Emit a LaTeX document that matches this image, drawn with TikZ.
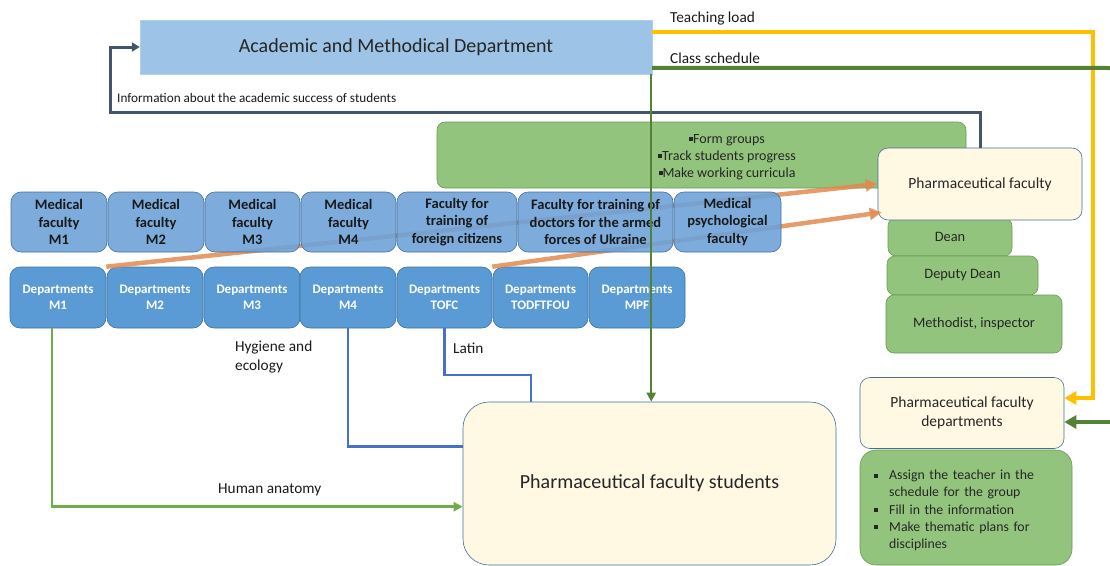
\documentclass[tikz,border=0pt]{standalone}
\usepackage{fontspec}
\setmainfont{Carlito}
\usetikzlibrary{arrows.meta,calc}
\definecolor{acadblue}{HTML}{9DC3E6}
\definecolor{toprow}{HTML}{6FA3D8}
\definecolor{deptrow}{HTML}{5B9BD5}
\definecolor{boxborder}{HTML}{41719C}
\definecolor{cream}{HTML}{FFF8E3}
\definecolor{taskgreen}{HTML}{93C47D}
\definecolor{taskborder}{HTML}{6A9A50}
\definecolor{slate}{HTML}{44546A}
\definecolor{gold}{HTML}{FFC000}
\definecolor{darkgreen}{HTML}{548235}
\definecolor{lightgreen}{HTML}{70AD47}
\definecolor{lineblue}{HTML}{4472C4}
\definecolor{orangeline}{HTML}{E08A50}
\newcommand{\sqb}{\raisebox{2pt}{\rule{4pt}{4pt}}}
\begin{document}
\begin{tikzpicture}[x=1pt,y=-1pt,
  box/.style={rectangle,inner sep=0pt,align=center},
  topbox/.style={box,fill=toprow,fill opacity=0.9,text opacity=1,draw=boxborder,line width=0.6pt,rounded corners=10pt,font=\fontsize{14.5}{17.5}\selectfont\bfseries,text=black!90,minimum height=60pt},
  deptbox/.style={box,fill=deptrow,draw=boxborder,line width=0.6pt,rounded corners=10pt,font=\fontsize{13}{16.5}\selectfont\bfseries,text=white,minimum height=61pt},
  greenbox/.style={box,fill=taskgreen,draw=taskborder,line width=0.6pt,rounded corners=8pt,font=\fontsize{14.4}{17}\selectfont,text=black!85},
  creambox/.style={box,fill=cream,draw=boxborder,line width=0.6pt,rounded corners=10pt,text=black!85},
  lbl/.style={inner sep=0pt,anchor=west,font=\fontsize{15.3}{18.5}\selectfont,text=black!90,align=left},
]
\useasboundingbox (0,0) rectangle (1110,565);

% Academic department
\node[box,fill=acadblue,draw=acadblue!80!white,minimum width=512pt,minimum height=54pt,font=\fontsize{20}{22}\selectfont,text=black!85] (acad) at (396,47) {\raisebox{-2pt}{Academic and Methodical Department}};

% green task box (top)
\node[greenbox,minimum width=529pt,minimum height=66pt] (gtasks) at (701.5,155) {};
\node[inner sep=0pt,align=center,font=\fontsize{14}{17.2}\selectfont,text=black!85] (gtext) at (727,157) {\sqb Form groups\\ \sqb Track students progress\\ \sqb Make working curricula};

% staff boxes
\node[greenbox,minimum width=124pt,minimum height=38pt] (dean) at (950,237) {Dean};
\node[greenbox,minimum width=151pt,minimum height=39pt] (deputy) at (962.5,275.5) {Deputy Dean};
\node[greenbox,minimum width=176pt,minimum height=58pt] (method) at (974,324) {Methodist, inspector};
\node[creambox,minimum width=204pt,minimum height=72pt,font=\fontsize{15.5}{18}\selectfont] (pf) at (980,184) {\raisebox{-2pt}{Pharmaceutical faculty}};

% departments row
\node[deptbox,minimum width=96pt] (d1) at (58,297.5) {Departments\\M1};
\node[deptbox,minimum width=96pt] (d2) at (155,297.5) {Departments\\M2};
\node[deptbox,minimum width=96pt] (d3) at (252,297.5) {Departments\\M3};
\node[deptbox,minimum width=96pt] (d4) at (348,297.5) {Departments\\M4};
\node[deptbox,minimum width=95pt] (d5) at (444.5,297.5) {Departments\\TOFC};
\node[deptbox,minimum width=95pt] (d6) at (540.5,297.5) {Departments\\TODFTFOU};
\node[deptbox,minimum width=96pt] (d7) at (637,297.5) {Departments\\MPF};

% orange arrows
\draw[orangeline,opacity=0.85,line width=4.5pt,-{Triangle[length=12pt,width=12pt]}] (d1.north east) -- (pf.west);
\draw[orangeline,opacity=0.85,line width=4.5pt,-{Triangle[length=12pt,width=12pt]}] (d5.north east) -- ($(pf.south west)+(4,-8)$);

% faculties row
\node[topbox,minimum width=96pt] (f1) at (59,222) {Medical\\faculty\\M1};
\node[topbox,minimum width=96pt] (f2) at (156,222) {Medical\\faculty\\M2};
\node[topbox,minimum width=95pt] (f3) at (252.5,222) {Medical\\faculty\\M3};
\node[topbox,minimum width=95pt] (f4) at (348.5,222) {Medical\\faculty\\M4};
\node[topbox,minimum width=120pt] (f5) at (457,222) {Faculty for\\training of\\foreign citizens};
\node[topbox,minimum width=155pt] (f6) at (595.5,222) {Faculty for training of\\doctors for the armed\\forces of Ukraine};
\node[topbox,minimum width=107pt] (f7) at (727.5,222) {Medical\\psychological\\faculty};

% bottom boxes
\node[creambox,minimum width=373pt,minimum height=163pt,rounded corners=26pt,font=\fontsize{20}{22}\selectfont] (ps) at (649.5,483.5) {\raisebox{-4pt}{Pharmaceutical faculty students}};
\node[creambox,minimum width=204pt,minimum height=71pt,font=\fontsize{15.5}{18.5}\selectfont] (pfd) at (962,413) {Pharmaceutical faculty\\departments};
\node[greenbox,minimum width=212pt,minimum height=115pt,rounded corners=16pt] (tasks2) at (966,507.5) {};
\node[inner sep=0pt,anchor=north west,font=\fontsize{13.8}{17.2}\selectfont,text=black!85,text width=190pt,align=left] (t2text) at (874,470) {%
\makebox[15pt][l]{\sqb}Assign the teacher in the\\
\hspace*{15pt}schedule for the group\\
\makebox[15pt][l]{\sqb}Fill in the information\\
\makebox[15pt][l]{\sqb}Make thematic plans for\\
\hspace*{15pt}disciplines};

% coordinates
\coordinate (infoc) at (110,112);
\coordinate (tls) at ($(acad.north east)+(0,12)$);
\coordinate (tlc) at (1093,398);
\coordinate (css) at ($(acad.north east)+(0,48)$);
\coordinate (cse) at (1112,68);
\coordinate (csr) at (1112,422);
\coordinate (gv) at ($(acad.south east)+(-1,0)$);
\coordinate (latc) at (531,375);

% info arrow
\draw[slate,line width=3pt,-{Triangle[length=8pt,width=9pt]}] (pf.north) |- (infoc) |- (acad.west);
% teaching load
\draw[gold,line width=4pt,-{Triangle[length=12pt,width=13pt]}] (tls) -| (tlc) -- (tlc -| pfd.east);
% class schedule
\draw[darkgreen,line width=4pt] (css) -- (cse);
\draw[darkgreen,line width=4pt,-{Triangle[length=12pt,width=13pt]}] (csr) -- (csr -| pfd.east);
% green vertical
\draw[darkgreen,line width=2.5pt,-{Triangle[length=9pt,width=9pt]}] (gv) -- (gv |- ps.north);
% blue lines
\draw[lineblue,line width=2.5pt] (d4.south) |- ($(ps.north west)+(0,45)$);
\draw[lineblue,line width=2.5pt] (d5.south) |- (latc) -- (latc |- ps.north);
% human anatomy
\draw[lightgreen,line width=2.5pt,-{Triangle[length=9pt,width=9pt]}] ($(d1.south)+(-6,0)$) |- ($(ps.north west)+(0,105)$);

% labels
\node[lbl] (lteach) at (670,19) {Teaching load};
\node[lbl] (lclass) at (670,58) {Class schedule};
\node[lbl,font=\fontsize{13.2}{16}\selectfont] (linfo) at (117,98) {Information about the academic success of students};
\node[lbl] (lhyg) at (235,357) {Hygiene and\\ecology};
\node[lbl] (llat) at (453,348) {Latin};
\node[lbl] (lhum) at (218,490) {Human anatomy};
\end{tikzpicture}
\end{document}
